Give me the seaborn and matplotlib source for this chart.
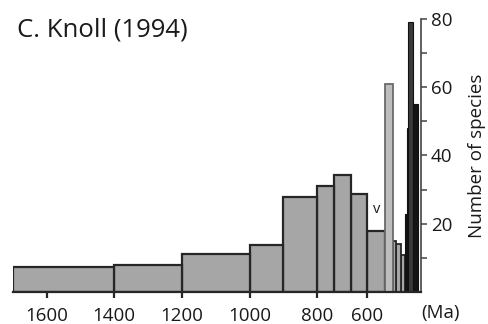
import numpy as np
import pandas as pd
import matplotlib
matplotlib.use("Agg")
import matplotlib.pyplot as plt
import seaborn as sns

# ---- data (Ma bin edges, number of species) ----
gray_edges = [1700, 1400, 1200, 1000, 900, 800, 733, 667, 600, 572]
gray_counts = [7.4, 8.1, 11.3, 13.7, 27.8, 31, 34.3, 28.6, 18]
light_edges = [572, 560]
light_counts = [61]
small_edges = [560, 555, 547, 541]
small_counts = [15, 14, 11]
black_edges = [541, 538, 536, 528, 521]
black_counts = [23, 48, 79, 55]
dark_index = 2  # tallest Cambrian bar drawn dark grey

x_ticks = [1600, 1400, 1200, 1000, 800, 600]
y_ticks = [20, 40, 60, 80]
y_minor = [10, 30, 50, 70]
title = "C. Knoll (1994)"
ylabel = "Number of species"
unit_label = "(Ma)"
marker_label = "v"

sns.set_style("white")
plt.rcParams["font.family"] = ["Open Sans", "DejaVu Sans"]
TXT = "#1a1a1a"
FS = 13.5

# piecewise-linear time axis (compressed between 800 and 600 Ma, expanded after 600)
S1, S2, S3 = 0.34, 0.2515, 0.64


def fwd(m):
    m = np.asarray(m, dtype=float)
    return np.where(m >= 800, S1 * (m - 800),
                    np.where(m >= 600, S2 * (m - 800),
                             S2 * (-200) + S3 * (m - 600)))


def inv(u):
    u = np.asarray(u, dtype=float)
    return np.where(u >= 0, 800 + u / S1,
                    np.where(u >= S2 * (-200), 800 + u / S2,
                             600 + (u - S2 * (-200)) / S3))


fig = plt.figure(figsize=(4.88, 3.24), dpi=100)
ax = fig.add_axes([12.7 / 488, 1 - 292.3 / 324, (420.5 - 12.7) / 488, (292.3 - 18.5) / 324])


def hist(edges, counts, face, edge, lw=1.6):
    e = sorted(float(v) for v in edges)
    c = list(counts)[::-1] if edges[0] > edges[-1] else list(counts)
    df = pd.DataFrame({"mid": [(a + b) / 2 for a, b in zip(e[:-1], e[1:])],
                       "count": [float(v) for v in c]})
    sns.histplot(data=df, x="mid", weights="count", bins=e, ax=ax, color=face,
                 edgecolor=edge, linewidth=lw, alpha=1, stat="count", zorder=2)


hist(gray_edges, gray_counts, "#a6a6a6", "#262626")
hist(small_edges, small_counts, "#a6a6a6", "#262626", lw=1.3)
hist(light_edges, light_counts, "#bdbdbd", "#6a6a6a", lw=1.3)
black_face = ["#3a3a3a" if i == dark_index else "#141414" for i in range(len(black_counts))]
for i in range(len(black_counts)):
    hist(black_edges[i:i + 2], [black_counts[i]], black_face[i], "#111111", lw=0.8)

ax.set_xscale("function", functions=(fwd, inv))
ax.set_xlim(1700, 516.5)
ax.set_ylim(0, 80)

ax.set_xticks(x_ticks)
ax.set_xticklabels([str(t) for t in x_ticks])
ax.xaxis.set_minor_locator(matplotlib.ticker.NullLocator())
ax.yaxis.tick_right()
ax.yaxis.set_label_position("right")
ax.set_yticks(y_ticks)
ax.set_yticks(y_minor, minor=True)
ax.set_xlabel("")
ax.set_ylabel(ylabel, fontsize=FS, color=TXT, labelpad=11)

ax.tick_params(axis="x", direction="out", length=4.5, width=1.6, color="#262626",
               labelsize=FS, labelcolor=TXT, pad=6, bottom=True)
ax.tick_params(axis="y", which="both", direction="out", length=4.5, width=1.1,
               color="#444444", labelsize=FS, labelcolor=TXT, pad=3,
               right=True, left=False)

for s in ["top", "left"]:
    ax.spines[s].set_visible(False)
ax.spines["right"].set_color("#444444")
ax.spines["right"].set_linewidth(1.2)
ax.spines["bottom"].set_color("#262626")
ax.spines["bottom"].set_linewidth(1.6)
ax.spines["bottom"].set_zorder(3)

# "v" marker above the post-glacial bar
v_x = (gray_edges[-2] + gray_edges[-1]) / 2
ax.text(v_x, gray_counts[-1] + 4, marker_label, ha="center", va="bottom",
        fontsize=10.5, color=TXT)

fig.text(17 / 488, 1 - 30 / 324, title, ha="left", va="center", fontsize=18.5, color=TXT)
fig.text(441 / 488, 1 - 313 / 324, unit_label, ha="center", va="center",
         fontsize=FS, color=TXT)

fig.savefig("out.png", dpi=100)
